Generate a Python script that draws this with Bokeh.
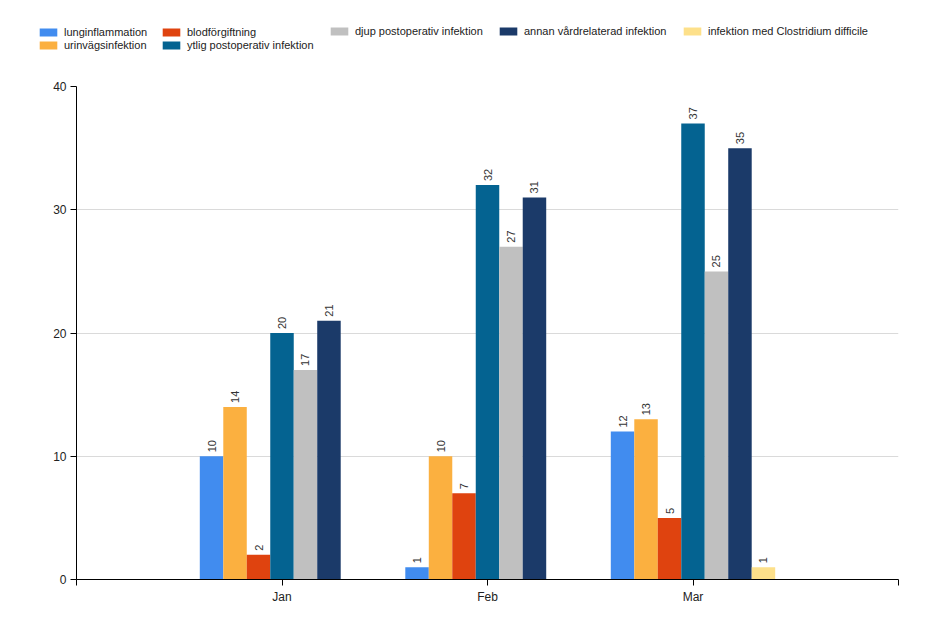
import math
from bokeh.plotting import figure
from bokeh.models import ColumnDataSource, FixedTicker, Legend, LegendItem, Range1d
from bokeh.transform import dodge
from bokeh.embed import file_html
from bokeh.resources import INLINE
from bokeh.core.properties import value

months = ["Jan", "Feb", "Mar"]
month_pos = [1, 2, 3]

series_names = [
    "lunginflammation",
    "urinvägsinfektion",
    "blodförgiftning",
    "ytlig postoperativ infektion",
    "djup postoperativ infektion",
    "annan vårdrelaterad infektion",
    "infektion med Clostridium difficile",
]
colors = ["#418CEF", "#FBB040", "#DF430F", "#046391", "#C0C0C0", "#1B3A69", "#FDE08A"]

lunginflammation = [10, 1, 12]
urinvagsinfektion = [14, 10, 13]
blodforgiftning = [2, 7, 5]
ytlig_postop = [20, 32, 37]
djup_postop = [17, 27, 25]
annan_vardrel = [21, 31, 35]
clostridium = [0, 0, 1]

series_values = [lunginflammation, urinvagsinfektion, blodforgiftning,
                 ytlig_postop, djup_postop, annan_vardrel, clostridium]

y_ticks = [0, 10, 20, 30, 40]

FONT = "Liberation Sans"
n = len(series_names)
group_w = 0.8
bar_w = group_w / n

sources = []
for vals in series_values:
    xs = [m for m, v in zip(month_pos, vals) if v > 0]
    ys = [v for v in vals if v > 0]
    sources.append(ColumnDataSource(dict(x=xs, top=ys, label=[str(v) for v in ys])))

# ---------- legend strip (separate root, so its frame spans the full width) ----------
pl = figure(width=936, height=78, x_range=Range1d(-20, -19), y_range=Range1d(0, 1),
            output_backend="svg", toolbar_location=None,
            x_axis_location=None, y_axis_location=None, min_border=0)
pl.outline_line_color = None
pl.xgrid.visible = False
pl.ygrid.visible = False
leg_renderers = []
for col, src in zip(colors, sources):
    leg_renderers.append(pl.vbar(x="x", top="top", width=bar_w, source=src,
                                 fill_color=col, line_color=None))

columns_idx = [[0, 1], [2, 3], [4], [5], [6]]
col_x = [37, 160, 328, 497, 681]
for idxs, cx in zip(columns_idx, col_x):
    items = [LegendItem(label=series_names[k], renderers=[leg_renderers[k]]) for k in idxs]
    lg = Legend(items=items, location=(cx, 27 if len(idxs) == 2 else 41),
                orientation="vertical", padding=0, margin=0, spacing=1,
                glyph_width=22, glyph_height=10, label_height=12, label_standoff=5,
                label_text_font=FONT, label_text_font_size="11px", label_text_color="#222222",
                border_line_color=None, background_fill_alpha=0)
    pl.add_layout(lg, "center")

# ---------- main chart ----------
p = figure(width=936, height=555, x_range=Range1d(0, 4), y_range=Range1d(0, 40),
           output_backend="svg", toolbar_location=None,
           min_border_left=76, min_border_right=38, min_border_top=8, min_border_bottom=54)
p.outline_line_color = None

for i, (col, src) in enumerate(zip(colors, sources)):
    off = (i - (n - 1) / 2) * bar_w
    p.vbar(x=dodge("x", off), top="top", bottom=0, width=bar_w, source=src,
           fill_color=col, line_color=None)
    p.text(x=dodge("x", off), y="top", text="label", source=src, angle=math.pi / 2,
           text_align="left", text_baseline="middle", y_offset=-4,
           text_font_size="11px", text_font=value(FONT), text_color="#333333")

p.xaxis.ticker = FixedTicker(ticks=[0, 1, 2, 3, 4])
p.xaxis.major_label_overrides = {0: "", 1: months[0], 2: months[1], 3: months[2], 4: ""}
p.yaxis.ticker = FixedTicker(ticks=y_ticks)
for ax in (p.xaxis, p.yaxis):
    ax.axis_line_color = "black"
    ax.major_tick_line_color = "black"
    ax.major_tick_in = 0
    ax.major_tick_out = 6
    ax.minor_tick_line_color = None
    ax.major_label_text_font = FONT
    ax.major_label_text_font_size = "12px"
    ax.major_label_text_color = "#222222"
p.xaxis.major_label_standoff = 4
p.yaxis.major_label_standoff = 4
p.xgrid.visible = False
p.ygrid.grid_line_color = "#DADADA"
p.ygrid.ticker = FixedTicker(ticks=y_ticks)

open("out.html", "w").write(file_html([pl, p], INLINE))
